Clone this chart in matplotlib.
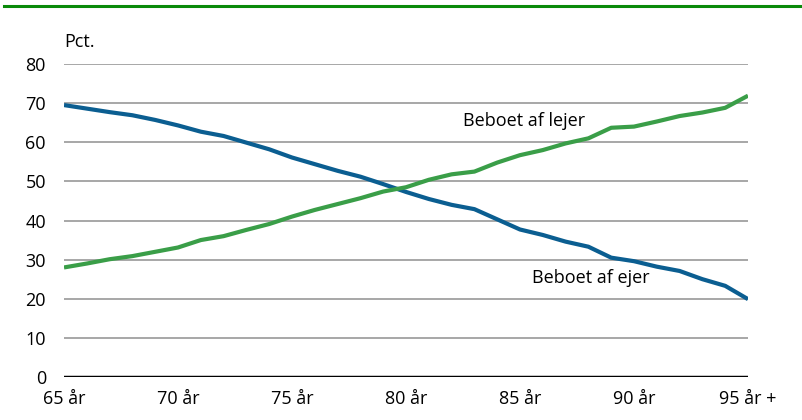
import matplotlib.pyplot as plt
from matplotlib.lines import Line2D

plt.rcParams['font.family'] = ['Open Sans', 'DejaVu Sans']

# Data
ages = list(range(65, 96))
ejer = [69.5, 68.6, 67.7, 66.9, 65.7, 64.3, 62.7, 61.6, 59.9, 58.2,
        56.1, 54.4, 52.7, 51.2, 49.3, 47.3, 45.5, 44.0, 42.9, 40.3,
        37.7, 36.3, 34.6, 33.3, 30.5, 29.6, 28.2, 27.1, 25.0, 23.3, 19.9]
lejer = [28.0, 29.0, 30.1, 30.9, 32.0, 33.1, 35.0, 36.0, 37.6, 39.1,
         41.0, 42.7, 44.2, 45.7, 47.4, 48.5, 50.4, 51.8, 52.5, 54.8,
         56.7, 58.0, 59.7, 61.0, 63.7, 64.0, 65.3, 66.7, 67.6, 68.8, 71.9]
xticks = [65, 70, 75, 80, 85, 90, 95]
xticklabels = ['65 år', '70 år', '75 år', '80 år', '85 år', '90 år', '95 år +']
yticks = [0, 10, 20, 30, 40, 50, 60, 70, 80]

blue = '#0b5e91'
green = '#3a9e48'

fig = plt.figure(figsize=(8.03, 4.2), dpi=100)
ax = fig.add_axes([64 / 803, 1 - 377 / 420, (748 - 64) / 803, (377 - 64) / 420])

for y in yticks[1:]:
    ax.axhline(y, color='#a0a0a0', lw=1.3, zorder=1)
ax.axhline(0, color='black', lw=2.5, zorder=3)

ax.plot(ages, ejer, color=blue, lw=3, solid_capstyle='butt', zorder=2)
ax.plot(ages, lejer, color=green, lw=3, solid_capstyle='butt', zorder=2)

ax.set_xlim(65, 95)
ax.set_ylim(0, 80)
ax.set_xticks(xticks)
ax.set_xticklabels(xticklabels)
ax.set_yticks(yticks)
ax.tick_params(length=0, labelsize=13)
ax.tick_params(axis='y', pad=13)
ax.tick_params(axis='x', pad=9)
for s in ax.spines.values():
    s.set_visible(False)
ax.patch.set_visible(False)

ax.text(85.2, 65.4, 'Beboet af lejer', fontsize=13, ha='center', va='center')
ax.text(88.1, 25.3, 'Beboet af ejer', fontsize=13, ha='center', va='center')

fig.text(64 / 803, 1 - 42 / 420, 'Pct.', fontsize=13, ha='left', va='center')
fig.add_artist(Line2D([4 / 803, 1], [1 - 5.5 / 420] * 2, color='#0a8a0a', lw=2.2,
                      transform=fig.transFigure))

fig.savefig('out.png', dpi=100)
